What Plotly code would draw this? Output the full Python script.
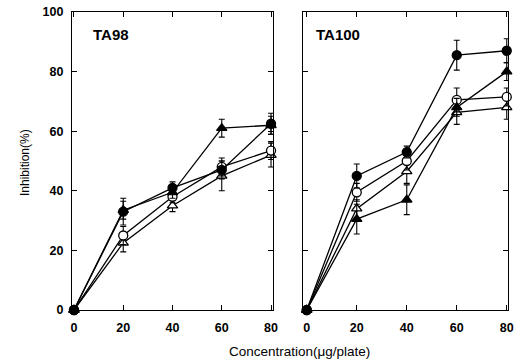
import plotly.graph_objects as go

conc = [0, 20, 40, 60, 80]
x_ticks = [0, 20, 40, 60, 80]
y_ticks = [0, 20, 40, 60, 80, 100]

# TA98 panel
ta98_filled_circle = [0, 33, 41, 47, 62.5]
ta98_filled_circle_err = [0, 4.5, 2, 3, 3.5]
ta98_open_circle = [0, 25, 38, 48, 53.5]
ta98_open_circle_err = [0, 3, 2, 3, 3]
ta98_filled_tri = [0, 33.5, 39.5, 61, 62]
ta98_filled_tri_err = [0, 3, 2, 3, 3]
ta98_open_tri = [0, 22.5, 35, 45, 52]
ta98_open_tri_err = [0, 3, 2, 5, 4]

# TA100 panel
ta100_filled_circle = [0, 45, 53, 85.5, 87]
ta100_filled_circle_err = [0, 4, 2, 5, 4]
ta100_open_circle = [0, 39.5, 50, 70.5, 71.5]
ta100_open_circle_err = [0, 3, 3, 4, 3]
ta100_filled_tri = [0, 30.5, 37, 68, 80]
ta100_filled_tri_err = [0, 5, 5, 3, 3]
ta100_open_tri = [0, 34, 46.5, 66.3, 68]
ta100_open_tri_err = [0, 3, 4, 4, 4]

panel_labels = ["TA98", "TA100"]

FONT = "Liberation Sans"

def add_series(fig, y, err, symbol, fill, xa, ya):
    fig.add_trace(go.Scatter(
        x=conc, y=y, xaxis=xa, yaxis=ya, mode="lines+markers",
        line=dict(color="black", width=1.3),
        marker=dict(symbol=symbol, size=9, color=fill,
                    line=dict(color="black", width=1.3)),
        error_y=dict(type="data", array=err, visible=True,
                     color="black", thickness=1.1, width=3),
        cliponaxis=False, showlegend=False, hoverinfo="skip"))

fig = go.Figure()
left = [(ta98_open_tri, ta98_open_tri_err, "triangle-up", "white"),
        (ta98_open_circle, ta98_open_circle_err, "circle", "white"),
        (ta98_filled_tri, ta98_filled_tri_err, "triangle-up", "black"),
        (ta98_filled_circle, ta98_filled_circle_err, "circle", "black")]
right = [(ta100_open_tri, ta100_open_tri_err, "triangle-up", "white"),
         (ta100_open_circle, ta100_open_circle_err, "circle", "white"),
         (ta100_filled_tri, ta100_filled_tri_err, "triangle-up", "black"),
         (ta100_filled_circle, ta100_filled_circle_err, "circle", "black")]
for y, e, s, f in left:
    add_series(fig, y, e, s, f, "x", "y")
for y, e, s, f in right:
    add_series(fig, y, e, s, f, "x2", "y2")

W, H = 531, 364
ydom = [(H - 310) / H, (H - 12) / H]
axis_common = dict(showgrid=False, zeroline=False, showline=True,
                   linecolor="black", linewidth=1.3, ticks="inside",
                   ticklen=5, tickcolor="black", tickwidth=1.2,
                   mirror="ticks", automargin=False,
                   tickfont=dict(family=FONT, size=12.5, color="black", weight="bold"))

fig.update_layout(
    width=W, height=H, margin=dict(l=0, r=0, t=0, b=0, autoexpand=False),
    paper_bgcolor="white", plot_bgcolor="white",
    xaxis=dict(domain=[72 / W, 273 / W], range=[-0.8, 80.8],
               tickvals=x_ticks, anchor="y", ticklabelstandoff=6,
               **axis_common),
    yaxis=dict(domain=ydom, range=[0, 100], tickvals=y_ticks,
               anchor="x", ticklabelstandoff=5, **axis_common),
    xaxis2=dict(domain=[303 / W, 508 / W], range=[-1.5, 80.5],
                tickvals=x_ticks, anchor="y2", ticklabelstandoff=6,
                **axis_common),
    yaxis2=dict(domain=ydom, range=[0, 100], tickvals=y_ticks,
                showticklabels=False, anchor="x2", **axis_common),
)

fig.add_annotation(text=panel_labels[0], xref="x", yref="y", x=7, y=92.5,
                   xanchor="left", yanchor="middle", showarrow=False,
                   font=dict(family=FONT, size=15, color="black", weight="bold"))
fig.add_annotation(text=panel_labels[1], xref="x2", yref="y2", x=3, y=92.5,
                   xanchor="left", yanchor="middle", showarrow=False,
                   font=dict(family=FONT, size=15, color="black", weight="bold"))
fig.add_annotation(text="Inhibition(%)", xref="paper", yref="paper",
                   x=25 / W, y=1 - 163 / H, textangle=-90, showarrow=False,
                   xanchor="center", yanchor="middle",
                   font=dict(family=FONT, size=12, color="black"))
fig.add_annotation(text="Concentration(μg/plate)", xref="paper", yref="paper",
                   x=299 / W, y=1 - 351 / H, showarrow=False,
                   xanchor="center", yanchor="middle",
                   font=dict(family=FONT, size=13.5, color="black"))

fig.write_html("out.html", config={"displayModeBar": False},
               post_script="document.body.style.margin='0px';document.body.style.overflow='hidden';")
